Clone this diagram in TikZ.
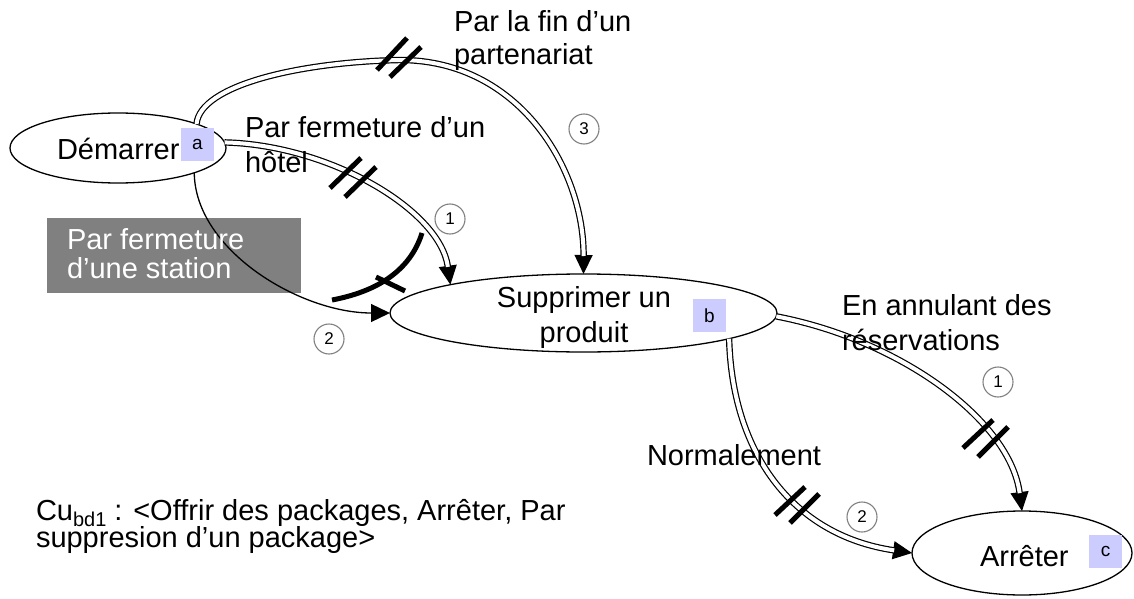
\documentclass[tikz,border=0pt]{standalone}
\usepackage{fontspec}
\setmainfont{Liberation Sans}
\usetikzlibrary{arrows.meta,shapes.geometric}
\definecolor{tagblue}{HTML}{CCCCFF}
\definecolor{boxgrey}{HTML}{808080}
\definecolor{circgrey}{HTML}{808080}
\newcommand\dblconn[1]{\draw[tipline] #1; \draw[dbl] #1;}
\begin{document}
\begin{tikzpicture}[x=1pt,y=-1pt,
  every node/.style={inner sep=0pt, outer sep=0pt},
  lbl/.style={anchor=base west, font=\fontsize{29}{35}\selectfont},
  lblc/.style={anchor=base, font=\fontsize{29}{35}\selectfont},
  ell/.style={draw, line width=1.3pt, ellipse},
  tag/.style={fill=tagblue, minimum width=33pt, minimum height=33pt, font=\fontsize{19}{19}\selectfont},
  circnum/.style={circle, draw=circgrey, line width=1.1pt, minimum size=30pt, font=\fontsize{17}{17}\selectfont},
  thinline/.style={line width=1.3pt},
  tipline/.style={line width=1.2pt, -{Triangle[length=19pt,width=18pt]}},
  dbl/.style={double, double distance=4pt, line width=1.2pt, shorten >=18pt},
  tally/.style={line width=5pt},
  cutmark/.style={line width=5pt}]
\useasboundingbox (0,0) rectangle (1134,599);

% grey box
\fill[boxgrey] (47,218) rectangle (301,293);

% states
\node[ell, minimum width=216pt, minimum height=70pt] (dem) at (118,148) {};
\node[ell, minimum width=387pt, minimum height=78pt] (sup) at (583.5,313) {};
\node[ell, minimum width=220pt, minimum height=84pt] (arr) at (1022,553) {};

% tags
\node[tag] (taga) at (197.5,144.5) {a};
\node[tag] (tagb) at (709.5,315.5) {b};
\node[tag] (tagc) at (1105.5,551) {c};

% connectors
\dblconn{(dem.3) .. controls (330,145) and (440,210) .. (sup.168)}
\dblconn{(dem.17) .. controls (200,85) and (300,62) .. (400,60) .. controls (520,60) and (584,170) .. (sup.90)}
\draw[thinline, -{Triangle[length=19pt,width=18pt]}] (dem.-18) .. controls (195,250) and (300,313) .. (sup.west);
\dblconn{(sup.-10) .. controls (732,450) and (790,535) .. (arr.west)}
\dblconn{(sup.-1) .. controls (900,340) and (1010,420) .. (arr.north)}

% tally marks
\draw[tally] (330,188) -- (361,158) (345,197) -- (376,167);
\draw[tally] (377,70) -- (407,38) (390,77) -- (421,47);
\draw[tally] (775,515) -- (805,487) (790,523) -- (819,494);
\draw[tally] (963,448) -- (993,420) (978,457) -- (1008,427);

% cut mark
\draw[cutmark] (332,300) .. controls (385,290) and (412,265) .. (422,233);
\draw[cutmark] (376,277) -- (405,291);

% circled numbers
\node[circnum] (n3) at (584,129) {3};
\node[circnum] (n1a) at (450,219) {1};
\node[circnum] (n2a) at (329,339) {2};
\node[circnum] (n1b) at (998,382) {1};
\node[circnum] (n2b) at (862,517) {2};

% texts
\node[lbl] (tdem) at (57,159) {Démarrer};
\node[lblc] (tsup1) at (584,307) {Supprimer un};
\node[lblc] (tsup2) at (584,342) {produit};
\node[lbl] (tarr) at (980,566) {Arrêter};
\node[lbl] (t1a) at (245,137) {Par fermeture d’un};
\node[lbl] (t1b) at (245,172) {hôtel};
\node[lbl] (t3a) at (454,32) {Par la fin d’un};
\node[lbl] (t3b) at (454,65) {partenariat};
\node[lbl, text=white] (tg1) at (67,249) {Par fermeture};
\node[lbl, text=white] (tg2) at (67,278) {d’une station};
\node[lbl] (t5a) at (842,315) {En annulant des};
\node[lbl] (t5b) at (842,350) {réservations};
\node[lbl] (t4) at (647,465) {Normalement};
\node[lbl, text height=20pt, text depth=5pt] (tcu1) at (36,520) {Cu\smash{\raisebox{-6pt}{\fontsize{20}{20}\selectfont bd1}} : <Offrir des packages, Arrêter, Par};
\node[lbl, text height=20pt, text depth=5pt] (tcu2) at (36,547) {suppresion d’un package>};
\end{tikzpicture}
\end{document}
